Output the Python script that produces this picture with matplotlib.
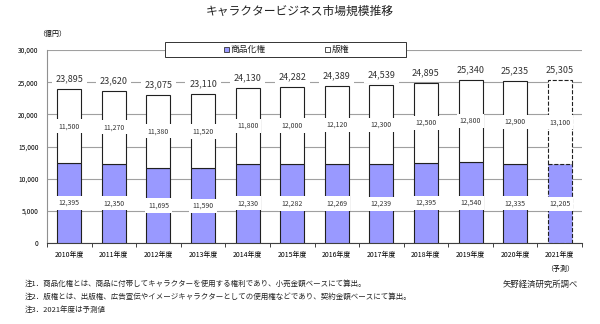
import matplotlib
matplotlib.use("Agg")
import matplotlib.pyplot as plt
from matplotlib.patches import Rectangle

plt.rcParams['font.family'] = ['Noto Sans CJK JP', 'DejaVu Sans']

years = ["2010年度", "2011年度", "2012年度", "2013年度", "2014年度", "2015年度",
         "2016年度", "2017年度", "2018年度", "2019年度", "2020年度", "2021年度"]
merch = [12395, 12350, 11695, 11590, 12330, 12282, 12269, 12239, 12395, 12540, 12335, 12205]
rights = [11500, 11270, 11380, 11520, 11800, 12000, 12120, 12300, 12500, 12800, 12900, 13100]
totals = [23895, 23620, 23075, 23110, 24130, 24282, 24389, 24539, 24895, 25340, 25235, 25305]

purple = "#9999ff"
W, H = 600, 324
x = list(range(len(years)))

fig = plt.figure(figsize=(6, 3.24), dpi=100)
ax = fig.add_axes([47 / W, 1 - 243 / H, 535 / W, 193 / H])

for i in x:
    ls = "--" if i == len(years) - 1 else "-"
    ax.bar(i, merch[i], width=0.54, color=purple, edgecolor="#202020", lw=0.8, ls=ls, zorder=3)
    ax.bar(i, rights[i], bottom=merch[i], width=0.54, color="white", edgecolor="#202020",
           lw=0.8, ls=ls, zorder=3)
    box = dict(boxstyle="square,pad=0.45", fc="white", ec="none")
    ax.text(i, merch[i] / 2, f"{merch[i]:,}", ha="center", va="center", fontsize=5,
            color="#333333", bbox=box, zorder=4)
    ax.text(i, merch[i] + rights[i] / 2, f"{rights[i]:,}", ha="center", va="center",
            fontsize=5, color="#333333", bbox=box, zorder=4)
    ax.annotate(f"{totals[i]:,}", (i, totals[i]), xytext=(0, 4), textcoords="offset points",
                ha="center", va="bottom", fontsize=6.5, color="#333333",
                bbox=dict(boxstyle="square,pad=0.4", fc="white", ec="none"), zorder=4)

ax.set_xlim(-0.5, len(years) - 0.5)
ax.set_ylim(0, 30000)
ax.set_yticks(range(0, 30001, 5000))
ax.set_yticklabels([f"{v:,}" for v in range(0, 30001, 5000)], fontsize=4.8)
ax.set_xticks(x)
ax.set_xticklabels(years, fontsize=5)
ax.set_xticks([i - 0.5 for i in range(len(years) + 1)], minor=True)
ax.tick_params(axis="x", which="major", length=0, pad=6)
ax.tick_params(axis="x", which="minor", length=3, width=0.7, color="#404040")
ax.tick_params(axis="y", length=0, pad=6)
ax.yaxis.grid(True, color="#a0a0a0", lw=0.8, zorder=0)
ax.set_axisbelow(True)
for s in ["top", "right"]:
    ax.spines[s].set_visible(False)
ax.spines["left"].set_color("#909090")
ax.spines["bottom"].set_color("#404040")

ax.text(len(years) - 1, -4100, "（予測）", ha="center", va="center", fontsize=5)

fig.text(0.5, 1 - 11 / H, "キャラクタービジネス市場規模推移", ha="center", va="center",
         fontsize=8.5, color="#222222")
fig.text(52 / W, 1 - 34 / H, "（億円）", ha="center", va="center", fontsize=5)

# legend box drawn by hand so the entries sit in the middle of each half
lx0, lx1, ly0, ly1 = 165, 406, 42, 57
fig.patches.append(Rectangle(((lx0 + 1.2) / W, 1 - (ly1 + 1.2) / H), (lx1 - lx0) / W,
                             (ly1 - ly0) / H, transform=fig.transFigure, fc="#b0b0b0",
                             ec="none", zorder=5))
fig.patches.append(Rectangle((lx0 / W, 1 - ly1 / H), (lx1 - lx0) / W, (ly1 - ly0) / H,
                             transform=fig.transFigure, fc="white", ec="#333333", lw=0.7,
                             zorder=6))
legend_labels = ["商品化権", "版権"]
legend_colors = [purple, "white"]
legend_x = [224, 325]
ly = (ly0 + ly1) / 2
for lab, col, px in zip(legend_labels, legend_colors, legend_x):
    fig.patches.append(Rectangle((px / W, 1 - (ly + 2.7) / H), 5 / W, 5.4 / H,
                                 transform=fig.transFigure, fc=col, ec="#333333", lw=0.6,
                                 zorder=7))
    fig.text((px + 6.5) / W, 1 - ly / H, lab, ha="left", va="center", fontsize=6.3,
             color="#222222", zorder=7)

notes = ["注1．商品化権とは、商品に付帯してキャラクターを使用する権利であり、小売金額ベースにて算出。",
         "注2．版権とは、出版権、広告宣伝やイメージキャラクターとしての使用権などであり、契約金額ベースにて算出。",
         "注3．2021年度は予測値"]
for k, n in enumerate(notes):
    fig.text(25 / W, 1 - (284 + 13 * k) / H, n, ha="left", va="center", fontsize=5.4,
             color="#222222")
fig.text(578 / W, 1 - 284 / H, "矢野経済研究所調べ", ha="right", va="center", fontsize=6,
         color="#222222")

fig.savefig("out.png", dpi=100)
